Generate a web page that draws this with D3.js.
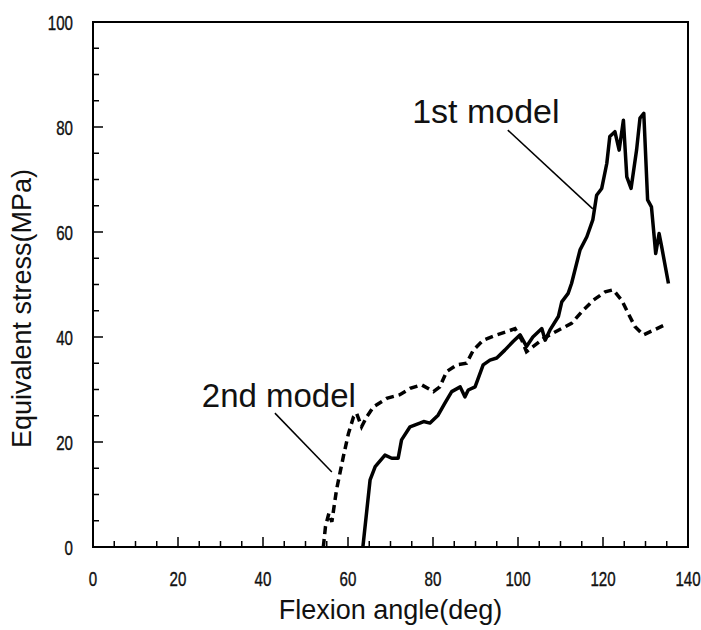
<!DOCTYPE html>
<html>
<head>
<meta charset="utf-8">
<script src="https://cdn.jsdelivr.net/npm/d3@7"></script>
<style>
  body { margin: 0; background: #fff; }
  text { font-family: "Liberation Sans", Arial, sans-serif; fill: #111; }
</style>
</head>
<body>
<div id="chart"></div>
<script>
// flexion angle (deg) vs equivalent stress (MPa)
const model1Angle = [63.5, 65.2, 66.4, 68.7, 70.3, 71.8, 72.6, 74.6, 76.9, 77.8, 79.3, 81.2, 82.8, 84.4, 86.4, 87.5, 88.3, 89.9, 91.8, 93.4, 95, 96.9, 98.9, 100.5, 102, 103.5, 105.6, 106.4, 107.5, 109.5, 110.3, 111.8, 112.6, 114.6, 116.2, 117.6, 118.5, 119.7, 120.9, 121.6, 122.8, 123.8, 124.8, 125.6, 126.6, 127.9, 128.7, 129.6, 130.5, 131.4, 132.4, 133.2, 133.8, 135.4];
const model1Stress = [0, 12.8, 15.3, 17.5, 16.9, 16.9, 20.4, 22.9, 23.6, 23.9, 23.6, 25.1, 27.4, 29.6, 30.5, 28.6, 29.9, 30.5, 34.7, 35.6, 36, 37.5, 39.2, 40.4, 38.2, 40, 41.6, 39.4, 41.3, 43.9, 46.7, 48.3, 50.2, 56.6, 59.1, 62.3, 67, 68.3, 73.1, 78.2, 79.1, 75.6, 81.3, 70.5, 68.3, 75.6, 81.7, 82.6, 66.1, 64.8, 55.9, 59.7, 57.2, 50.2];

const model2Angle = [54.2, 54.7, 55.5, 56.2, 57.3, 58.9, 60.1, 61.3, 62, 63.2, 64.4, 66, 69.1, 72.2, 74.6, 77.3, 80.1, 81.6, 83.2, 85.6, 87.9, 89.5, 91.8, 95, 97.3, 99.3, 100.9, 102, 103.6, 106, 109.5, 112.6, 115, 117.7, 120.5, 122.4, 124.4, 126, 127.5, 129.5, 131.9, 135];
const model2Stress = [0, 3.9, 6.4, 4.8, 10.9, 17.2, 21.6, 24.8, 25.5, 22.9, 24.8, 26.7, 28.3, 29, 30.2, 30.9, 29.6, 30.5, 33.4, 34.7, 35, 37.5, 39.4, 40.4, 41, 41.6, 39.4, 37.2, 38.2, 39.7, 41.3, 42.6, 44.8, 47, 48.6, 49, 47, 44.4, 42, 40.4, 41.3, 42.5];

const xTicks = [0, 20, 40, 60, 80, 100, 120, 140];
const yTicks = [0, 20, 40, 60, 80, 100];

const margin = { top: 22, right: 13, bottom: 83, left: 93 };
const W = 701, H = 630;
const width = W - margin.left - margin.right;
const height = H - margin.top - margin.bottom;

const svg = d3.select('#chart')
    .append('svg')
    .attr('width', W)
    .attr('height', H)
    .append('g')
    .attr('transform', `translate(${margin.left}, ${margin.top})`);

const x = d3.scaleLinear().domain([0, 140]).range([0, width]);
const y = d3.scaleLinear().domain([0, 100]).range([height, 0]);

// minor + major ticks pointing inward
const xMinor = d3.range(0, 141, 5);
const yMinor = d3.range(0, 101, 5);

svg.selectAll('.xt')
    .data(xMinor)
    .join('line')
    .attr('x1', d => x(d)).attr('x2', d => x(d))
    .attr('y1', height).attr('y2', d => height - (d % 20 === 0 ? 10 : 6))
    .attr('stroke', '#000').attr('stroke-width', 1.5);

svg.selectAll('.yt')
    .data(yMinor)
    .join('line')
    .attr('y1', d => y(d)).attr('y2', d => y(d))
    .attr('x1', 0).attr('x2', d => (d % 20 === 0 ? 10 : 6))
    .attr('stroke', '#000').attr('stroke-width', 1.5);

// frame
svg.append('rect')
    .attr('width', width).attr('height', height)
    .attr('fill', 'none').attr('stroke', '#000').attr('stroke-width', 2);

// narrow tick labels (squeezed horizontally)
svg.selectAll('.xl')
    .data(xTicks)
    .join('text')
    .style('font-size', '21px')
    .attr('stroke', '#111').attr('stroke-width', 0.4)
    .attr('transform', d => `translate(${x(d)}, ${height + 39}) scale(0.72, 1)`)
    .attr('text-anchor', 'middle')
    .text(d => d);

svg.selectAll('.yl')
    .data(yTicks)
    .join('text')
    .style('font-size', '21px')
    .attr('stroke', '#111').attr('stroke-width', 0.4)
    .attr('transform', d => `translate(-20, ${y(d) + 7.5}) scale(0.72, 1)`)
    .attr('text-anchor', 'end')
    .text(d => d);

// curves
const line = d3.line()
    .x(d => x(d[0]))
    .y(d => y(d[1]));

svg.append('path')
    .datum(d3.zip(model1Angle, model1Stress))
    .attr('d', line)
    .attr('fill', 'none').attr('stroke', '#000')
    .attr('stroke-width', 3.5).attr('stroke-linejoin', 'round');

svg.append('path')
    .datum(d3.zip(model2Angle, model2Stress))
    .attr('d', line)
    .attr('fill', 'none').attr('stroke', '#000')
    .attr('stroke-width', 3.5).attr('stroke-dasharray', '8,5');

// annotations
svg.append('text')
    .attr('x', x(75.1)).attr('y', y(80.8))
    .style('font-size', '34px')
    .text('1st model');
svg.append('line')
    .attr('x1', x(97.6)).attr('y1', y(79.4))
    .attr('x2', x(117.6)).attr('y2', y(64.4))
    .attr('stroke', '#000').attr('stroke-width', 1.5);

svg.append('text')
    .attr('x', x(25.6)).attr('y', y(26.7))
    .style('font-size', '33px')
    .text('2nd model');
svg.append('line')
    .attr('x1', x(42.8)).attr('y1', y(25.5))
    .attr('x2', x(56.2)).attr('y2', y(14.3))
    .attr('stroke', '#000').attr('stroke-width', 1.5);

// axis titles
svg.append('text')
    .attr('x', width / 2).attr('y', height + 72)
    .attr('text-anchor', 'middle')
    .style('font-size', '27px')
    .text('Flexion angle(deg)');

svg.append('text')
    .attr('transform', `translate(${-62}, ${height / 2 + 24}) rotate(-90)`)
    .attr('text-anchor', 'middle')
    .style('font-size', '27px')
    .text('Equivalent stress(MPa)');
</script>
</body>
</html>
